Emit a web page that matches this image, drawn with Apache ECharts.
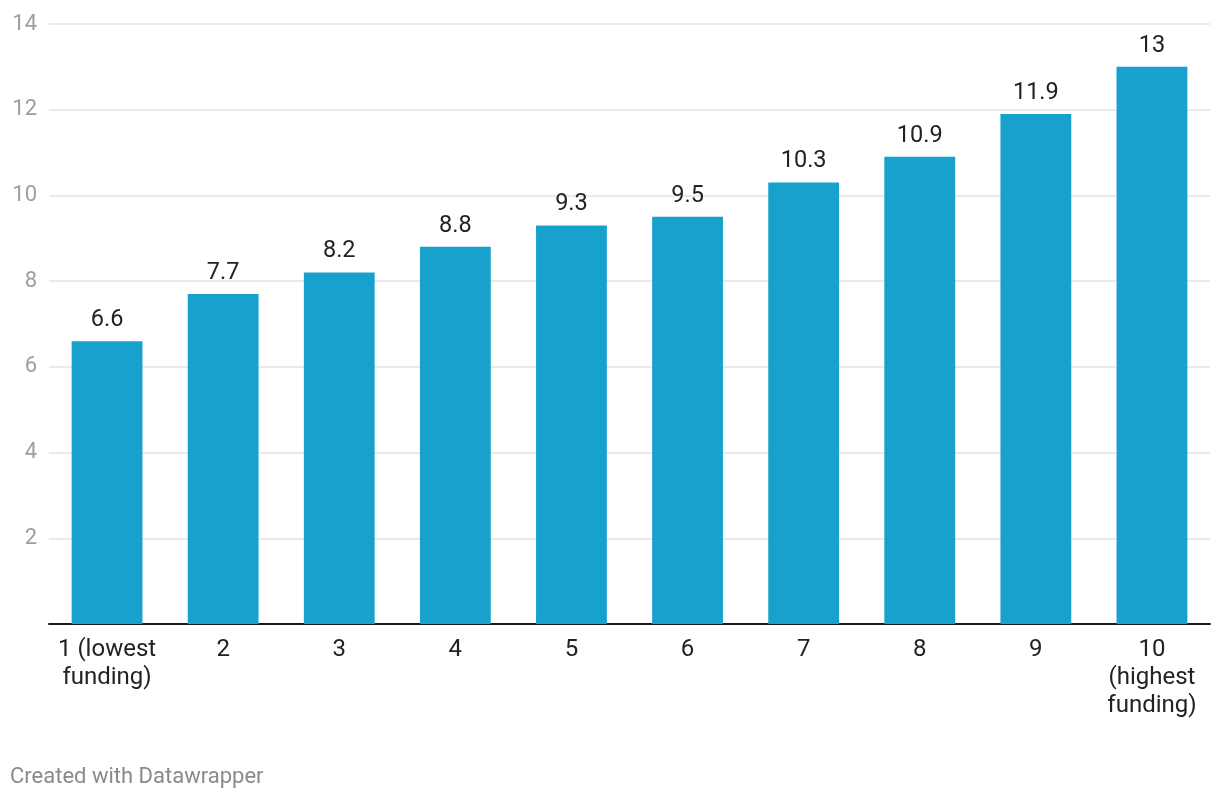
<!DOCTYPE html>
<html>
<head>
<meta charset="utf-8">
<script src="https://cdn.jsdelivr.net/npm/echarts@6/dist/echarts.min.js"></script>
<style>
html,body{margin:0;padding:0;background:#fff;}
#chart{width:1220px;height:800px;}
</style>
</head>
<body>
<div id="chart"></div>
<script>
const categories = ["1 (lowest\nfunding)", "2", "3", "4", "5", "6", "7", "8", "9", "10\n(highest\nfunding)"];
const values = [6.6, 7.7, 8.2, 8.8, 9.3, 9.5, 10.3, 10.9, 11.9, 13];
const yTicks = [0, 2, 4, 6, 8, 10, 12, 14];

const chart = echarts.init(document.getElementById('chart'), null, {renderer: 'canvas'});
chart.setOption({
  animation: false,
  backgroundColor: '#fff',
  textStyle: {fontFamily: 'Roboto'},
  grid: {left: 49, right: 10, top: 24, bottom: 176, containLabel: false},
  graphic: [{
    type: 'text', left: 10, top: 766,
    style: {text: 'Created with Datawrapper', fill: '#8a8a8a', font: '22px Roboto'}
  }],
  xAxis: {
    type: 'category',
    data: categories,
    axisLine: {lineStyle: {color: '#1a1a1a', width: 2}},
    axisTick: {show: false},
    axisLabel: {interval: 0, fontSize: 24, color: '#222', lineHeight: 28, margin: 12, fontFamily: 'Roboto'}
  },
  yAxis: {
    type: 'value',
    min: yTicks[0], max: yTicks[yTicks.length - 1], interval: 2,
    axisLine: {show: false},
    axisTick: {show: false},
    splitLine: {lineStyle: {color: '#e3e3e3', width: 1.5}},
    axisLabel: {fontSize: 22, color: '#9e9e9e', margin: 12, fontFamily: 'Roboto',
      formatter: v => v === 0 ? '' : String(v)}
  },
  series: [{
    type: 'bar',
    data: values,
    barWidth: '61%',
    itemStyle: {color: '#18a1cd'},
    label: {show: true, position: 'top', distance: 9, fontSize: 23.5, color: '#222', fontFamily: 'Roboto'}
  }]
});
</script>
</body>
</html>
